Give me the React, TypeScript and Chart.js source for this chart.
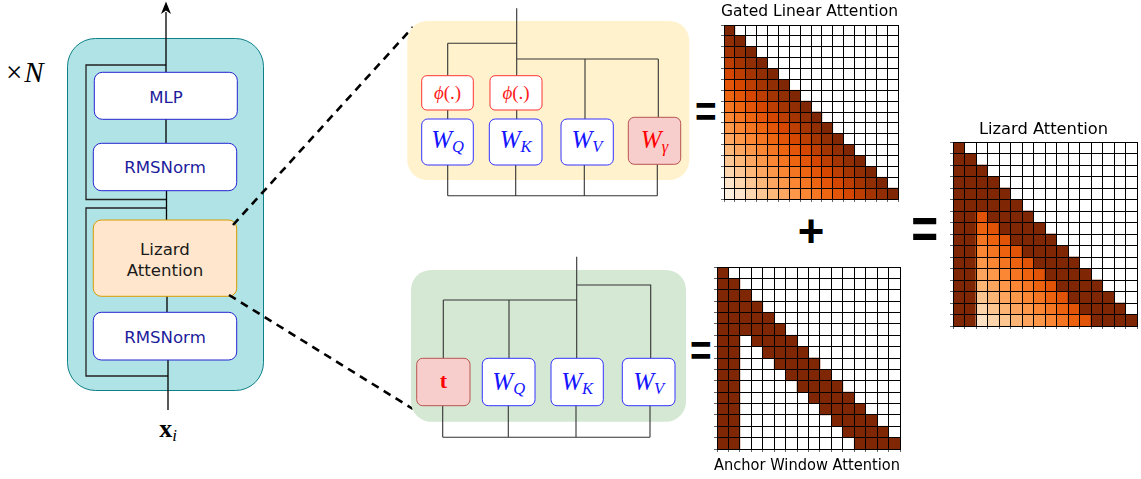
import React, { useEffect, useRef } from 'react';
import { Chart, registerables } from 'chart.js';

Chart.register(...registerables);

// ---------- data ----------
const columnLabels = ['1', '2', '3', '4', '5', '6', '7', '8', '9', '10', '11', '12', '13', '14', '15', '16'];
const rowLabels = ['1', '2', '3', '4', '5', '6', '7', '8', '9', '10', '11', '12', '13', '14', '15', '16'];
// gated linear attention weight by distance from the diagonal (0 = diagonal)
const glaDecay = [1.0, 0.94, 0.88, 0.82, 0.76, 0.7, 0.64, 0.58, 0.52, 0.46, 0.4, 0.34, 0.28, 0.21, 0.13, 0.05];
// lizard attention weight by distance from the diagonal (outside the window and anchors)
const lizardDecay = [1.0, 1.0, 1.0, 1.0, 0.71, 0.65, 0.58, 0.52, 0.46, 0.41, 0.35, 0.29, 0.22, 0.15];
const anchorColumns = 2;
const windowSize = 4;
const orangeStops = ['#fff5eb', '#fee6ce', '#fdd0a2', '#fdae6b', '#fd8d3c', '#f16913', '#d94801', '#a63603', '#7f2704'];

function buildMatrix(cell: (i: number, j: number) => number | null) {
  return rowLabels.map((_, i) => columnLabels.map((__, j) => cell(i, j)));
}
const glaMatrix = buildMatrix((i, j) => (j <= i ? glaDecay[i - j] : null));
const anchorMatrix = buildMatrix((i, j) => (j <= i && (j < anchorColumns || i - j < windowSize) ? 1 : null));
const lizardMatrix = buildMatrix((i, j) => {
  if (j > i) return null;
  if (j < anchorColumns || i - j < windowSize) return 1;
  return lizardDecay[i - j];
});

function hexToRgb(h: string) {
  return [parseInt(h.slice(1, 3), 16), parseInt(h.slice(3, 5), 16), parseInt(h.slice(5, 7), 16)];
}
function oranges(v: number) {
  const t = Math.max(0, Math.min(1, v)) * (orangeStops.length - 1);
  const i = Math.min(orangeStops.length - 2, Math.floor(t));
  const f = t - i;
  const a = hexToRgb(orangeStops[i]);
  const b = hexToRgb(orangeStops[i + 1]);
  const c = a.map((x, k) => Math.round(x + (b[k] - x) * f));
  return `rgb(${c[0]},${c[1]},${c[2]})`;
}

type MatrixProps = {
  left: number;
  top: number;
  width: number;
  height: number;
  values: (number | null)[][];
  title: string;
  titlePosition: 'top' | 'bottom';
  titlePad: { top: number; bottom: number };
  pad: { top: number; left: number; right: number; bottom: number };
};

function MatrixChart(p: MatrixProps) {
  const ref = useRef<HTMLCanvasElement>(null);
  useEffect(() => {
    if (!ref.current) return;
    const datasets = rowLabels.map((_, r) => ({
      label: 'row ' + rowLabels[r],
      data: columnLabels.map((__, c) => (p.values[r][c] == null ? null : [r, r + 1])),
      backgroundColor: columnLabels.map((__, c) =>
        p.values[r][c] == null ? 'rgba(0,0,0,0)' : oranges(p.values[r][c] as number)
      ),
      borderWidth: 0,
      grouped: false,
      barPercentage: 1,
      categoryPercentage: 1,
    }));
    const gridOpts = { color: '#000', lineWidth: 1, drawTicks: true, tickLength: 3, tickColor: '#666', z: 1, offset: true };
    const chart = new Chart(ref.current, {
      type: 'bar',
      data: { labels: columnLabels, datasets: datasets as any },
      options: {
        responsive: false,
        maintainAspectRatio: false,
        animation: false,
        layout: { padding: p.pad },
        plugins: {
          legend: { display: false },
          tooltip: { enabled: false },
          title: {
            display: true,
            text: p.title,
            position: p.titlePosition,
            color: '#000',
            font: { family: 'DejaVu Sans', size: 16.3, weight: 'normal', lineHeight: 1.2 },
            padding: p.titlePad,
          },
        },
        scales: {
          x: {
            type: 'category',
            offset: true,
            ticks: { display: false },
            grid: gridOpts as any,
            border: { display: true, color: '#000', width: 1, z: 1 } as any,
          },
          y: {
            type: 'linear',
            min: 0,
            max: 16,
            reverse: true,
            ticks: { display: false, stepSize: 1, maxTicksLimit: 100 },
            grid: { ...gridOpts, offset: false } as any,
            border: { display: true, color: '#000', width: 1, z: 1 } as any,
          },
        },
      },
    });
    return () => chart.destroy();
  }, []);
  return (
    <canvas
      ref={ref}
      width={p.width}
      height={p.height}
      style={{ position: 'absolute', left: p.left, top: p.top, width: p.width, height: p.height }}
    />
  );
}

const lineStroke = '#333';

function Box(props: { x: number; y: number; w: number; h: number; fill: string; stroke: string; r?: number }) {
  return (
    <rect
      x={props.x}
      y={props.y}
      width={props.w}
      height={props.h}
      rx={props.r ?? 6}
      fill={props.fill}
      stroke={props.stroke}
      strokeWidth={1}
    />
  );
}

function WLabel(props: { x: number; y: number; sub: string; color: string }) {
  return (
    <text x={props.x} y={props.y} textAnchor="middle" fill={props.color} fontFamily="Liberation Serif">
      <tspan fontStyle="italic" fontSize={25}>W</tspan>
      <tspan fontStyle="italic" fontSize={16.5} dy={4}>{props.sub}</tspan>
    </text>
  );
}

function Diagram() {
  const sans = 'DejaVu Sans';
  return (
    <svg width={1141} height={479} style={{ position: 'absolute', left: 0, top: 0 }}>
      {/* left block */}
      <rect x={67.5} y={38.5} width={196} height={352} rx={28} fill="#b0e3e6" stroke="#0e8088" strokeWidth={1} />
      <path d="M166,65 H86 V199.5 H166" fill="none" stroke="#222" strokeWidth={1.3} />
      <path d="M166,208 H86 V376 H168" fill="none" stroke="#222" strokeWidth={1.3} />
      <path d="M166,12 V72 M166,119 V143 M166.5,190 V220 M167,296 V312 M168,360 V410" fill="none" stroke="#000" strokeWidth={1.3} />
      <path d="M166,1.5 L171,14 L166,10.5 L161,14 Z" fill="#000" />
      <Box x={94.3} y={72.3} w={143} h={47} fill="#fff" stroke="#2323d0" r={8} />
      <Box x={93.3} y={143.3} w={143.4} h={47.4} fill="#fff" stroke="#2323d0" r={8} />
      <Box x={93.3} y={220} w={143.4} h={76.3} fill="#ffe6cc" stroke="#d79b00" r={8} />
      <Box x={93.3} y={312.3} w={143.4} h={47.7} fill="#fff" stroke="#2323d0" r={8} />
      <text x={166} y={102.7} textAnchor="middle" fontFamily={sans} fontSize={16.6} fill="#1c1c9c">MLP</text>
      <text x={165} y={173.3} textAnchor="middle" fontFamily={sans} fontSize={16.6} fill="#1c1c9c">RMSNorm</text>
      <text x={165} y={255} textAnchor="middle" fontFamily={sans} fontSize={16.6} fill="#1a1a1a">Lizard</text>
      <text x={165} y={275.5} textAnchor="middle" fontFamily={sans} fontSize={16.6} fill="#1a1a1a">Attention</text>
      <text x={165} y={342.7} textAnchor="middle" fontFamily={sans} fontSize={16.6} fill="#1c1c9c">RMSNorm</text>
      <text x={6} y={82} fontFamily="Liberation Serif" fontSize={29} fill="#000">
        <tspan>×</tspan>
        <tspan fontStyle="italic" dx={2}>N</tspan>
      </text>
      <text x={168} y={436.7} textAnchor="middle" fontFamily="Liberation Serif" fill="#000">
        <tspan fontWeight="bold" fontSize={26}>x</tspan>
        <tspan fontStyle="italic" fontSize={17} dy={4}>i</tspan>
      </text>

      {/* dashed zoom lines */}
      <path d="M233,225 L413,27" stroke="#000" strokeWidth={2.6} strokeDasharray="8 6" fill="none" />
      <path d="M229,295 L413,409" stroke="#000" strokeWidth={2.6} strokeDasharray="8 6" fill="none" />

      {/* gated linear attention block */}
      <rect x={407.3} y={21} width={282} height={159} rx={20} fill="#fff2cc" />
      <path
        d="M516.7,8.3 V75.7 M447.7,43.3 H516.7 M447.7,43.3 V75.7 M516.7,59 H658.3 M585,59 V119 M658.3,59 V117.3 M447.7,110 V119 M516.7,110 V119 M447.7,165 V195.7 M515.7,165 V195.7 M584.3,165 V195.7 M657.3,164.3 V195.7 M447.7,195.7 H657.3"
        stroke={lineStroke}
        strokeWidth={1.1}
        fill="none"
      />
      <Box x={421.7} y={75.7} w={51.6} h={34.3} fill="#fff" stroke="#ff3333" r={5} />
      <Box x={490} y={75.7} w={52} h={34.3} fill="#fff" stroke="#ff3333" r={5} />
      <text x={447.5} y={99} textAnchor="middle" fontFamily="Liberation Serif" fontSize={19} fill="#ff2020">
        <tspan fontStyle="italic">ϕ</tspan>
        <tspan>(.)</tspan>
      </text>
      <text x={516} y={99} textAnchor="middle" fontFamily="Liberation Serif" fontSize={19} fill="#ff2020">
        <tspan fontStyle="italic">ϕ</tspan>
        <tspan>(.)</tspan>
      </text>
      <Box x={421.7} y={119} w={51.6} h={46} fill="#fff" stroke="#3333ff" r={6} />
      <Box x={489.3} y={119} w={52.7} h={46} fill="#fff" stroke="#3333ff" r={6} />
      <Box x={561} y={119} w={52.3} h={46} fill="#fff" stroke="#3333ff" r={6} />
      <Box x={628.3} y={117.3} w={52.4} h={47} fill="#f8cecc" stroke="#b85450" r={6} />
      <WLabel x={447.5} y={148.3} sub="Q" color="#1515ff" />
      <WLabel x={515.6} y={148.3} sub="K" color="#1515ff" />
      <WLabel x={587} y={148.3} sub="V" color="#1515ff" />
      <WLabel x={654.5} y={148.3} sub="γ" color="#ff0000" />

      {/* anchor window attention block */}
      <rect x={411} y={270} width={275} height={151.7} rx={20} fill="#d5e8d4" />
      <path
        d="M576.7,256.7 V358.3 M576.7,285 H650.7 V358.3 M443.3,300 H576.7 M443.3,300 V358.3 M509,300 V358.3 M442.7,405.7 V437.3 M508.3,405.7 V437.3 M576,405.7 V437.3 M650,405.7 V437.3 M442.7,437.3 H650"
        stroke={lineStroke}
        strokeWidth={1.1}
        fill="none"
      />
      <Box x={416.7} y={358.3} w={53.3} h={47.4} fill="#f8cecc" stroke="#b85450" r={6} />
      <Box x={482.3} y={358.3} w={52.7} h={47.4} fill="#fff" stroke="#3333ff" r={6} />
      <Box x={551} y={358.3} w={52.3} h={47.4} fill="#fff" stroke="#3333ff" r={6} />
      <Box x={622.3} y={358.3} w={52.7} h={47.4} fill="#fff" stroke="#3333ff" r={6} />
      <text x={443.3} y={388.3} textAnchor="middle" fontFamily="Liberation Serif" fontWeight="bold" fontSize={22} fill="#ff0000">t</text>
      <WLabel x={508.7} y={390} sub="Q" color="#1515ff" />
      <WLabel x={577.2} y={390} sub="K" color="#1515ff" />
      <WLabel x={648.7} y={390} sub="V" color="#1515ff" />

      {/* operators */}
      <g transform="translate(695,113.3) scale(1,1.2)">
        <text x={0} y={11.5} fontFamily="Liberation Sans" fontWeight="bold" fontSize={37} fill="#000">=</text>
      </g>
      <g transform="translate(690,351.7) scale(1,1.2)">
        <text x={0} y={11.5} fontFamily="Liberation Sans" fontWeight="bold" fontSize={37} fill="#000">=</text>
      </g>
      <text x={797.7} y={246.5} fontFamily="Liberation Sans" fontWeight="bold" fontSize={45.5} fill="#000">+</text>
      <g transform="translate(911.3,230) scale(1,1.25)">
        <text x={0} y={14.3} fontFamily="Liberation Sans" fontWeight="bold" fontSize={46} fill="#000">=</text>
      </g>
    </svg>
  );
}

export default function App() {
  return (
    <div style={{ position: 'absolute', left: 0, top: 0, width: 1141, height: 479, background: '#fff' }}>
      <Diagram />
      <MatrixChart
        left={721}
        top={0}
        width={179}
        height={204}
        values={glaMatrix}
        title="Gated Linear Attention"
        titlePosition="top"
        titlePad={{ top: 1.6, bottom: 3.84 }}
        pad={{ top: 0, left: 0, right: 2, bottom: 2 }}
      />
      <MatrixChart
        left={714}
        top={265}
        width={194}
        height={212}
        values={anchorMatrix}
        title="Anchor Window Attention"
        titlePosition="bottom"
        titlePad={{ top: 3.6, bottom: 1.84 }}
        pad={{ top: 2, left: 0, right: 8, bottom: 0 }}
      />
      <MatrixChart
        left={950}
        top={110}
        width={190}
        height={221}
        values={lizardMatrix}
        title="Lizard Attention"
        titlePosition="top"
        titlePad={{ top: 9.6, bottom: 2.84 }}
        pad={{ top: 0, left: 0, right: 3, bottom: 2 }}
      />
    </div>
  );
}
